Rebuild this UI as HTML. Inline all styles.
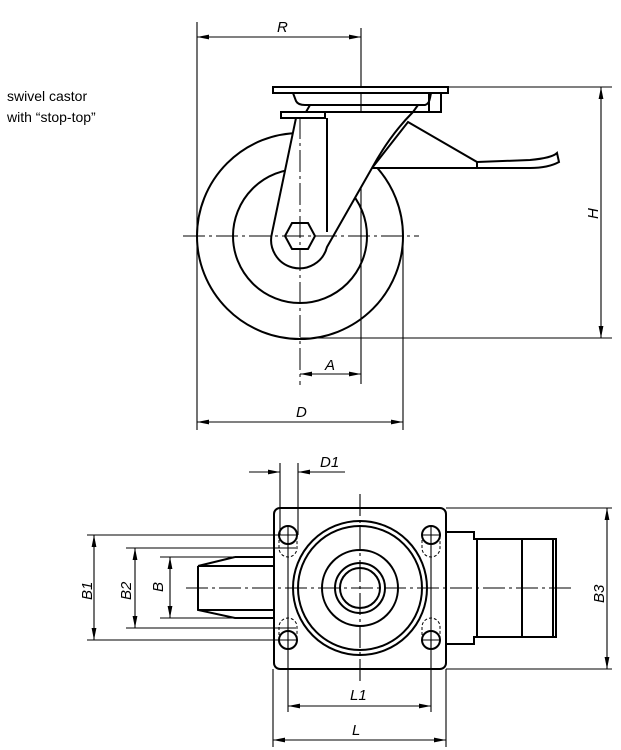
<!DOCTYPE html>
<html><head><meta charset="utf-8"><style>
html,body{margin:0;padding:0;background:#fff;}
svg{display:block;}
text{font-family:"Liberation Sans",sans-serif;font-style:italic;font-size:15px;fill:#000;}
.t{font-style:normal;font-size:14px;}
</style></head><body>
<svg width="621" height="750" viewBox="0 0 621 750" xmlns="http://www.w3.org/2000/svg">
<defs>
<marker id="a" viewBox="0 0 12 6" refX="12" refY="3" markerWidth="12" markerHeight="6" markerUnits="userSpaceOnUse" orient="auto-start-reverse"><path d="M0,0.6 L12,3 L0,5.4z" fill="#000"/></marker>
</defs>
<text class="t" x="7" y="101">swivel castor</text>
<text class="t" x="7" y="122">with “stop-top”</text>

<g fill="none" stroke="#000" stroke-width="1.1">
<line x1="197" y1="22" x2="197" y2="430"/>
<line x1="361" y1="28" x2="361" y2="384"/>
<line x1="197" y1="37" x2="361" y2="37" marker-start="url(#a)" marker-end="url(#a)"/>
<line x1="448" y1="87" x2="612" y2="87"/>
<line x1="300" y1="338" x2="612" y2="338"/>
<line x1="601" y1="87" x2="601" y2="338" marker-start="url(#a)" marker-end="url(#a)"/>
<line x1="300" y1="374" x2="361" y2="374" marker-start="url(#a)" marker-end="url(#a)"/>
<line x1="403" y1="240" x2="403" y2="430"/>
<line x1="197" y1="422" x2="403" y2="422" marker-start="url(#a)" marker-end="url(#a)"/>
</g>
<g fill="none" stroke="#000" stroke-width="2">
<circle cx="300" cy="236" r="103"/>
<circle cx="300" cy="236" r="67"/>
<path d="M408,122 L477,162 L477,168 L372,168 Z" fill="#fff"/>
<path d="M477,162 L530,160 Q552,158 557,153 L559,162 Q548,168 530,168 L477,168"/>
<path d="M296,118 L272,233 A28,28 0 0 0 327,247 L372,168 Q390,135 413,112 L296,112 Z" fill="#fff"/>
<line x1="327" y1="118" x2="327" y2="232"/>
<rect x="273" y="87" width="175" height="6" fill="#fff"/>
<path d="M293,93 L296,101 Q298,105 305,105 L425,105 Q429,104 430,98 L431,93"/>
<rect x="429" y="93" width="12" height="19"/>
<rect x="281" y="112" width="44" height="6" fill="#fff"/>
<path d="M310,105 L306,112 M418,105 L413,112 L441,112"/>
<path d="M285,236 L292,223 L308,223 L315,236 L308,249 L292,249 Z"/>
</g>
<line x1="300" y1="117" x2="300" y2="385" stroke="#000" stroke-width="1" stroke-dasharray="22,4,3,4"/>
<line x1="183" y1="236" x2="419" y2="236" stroke="#000" stroke-width="1" stroke-dasharray="22,4,3,4"/>
<text x="277" y="32">R</text>
<text x="325" y="370">A</text>
<text x="296" y="417">D</text>
<text x="0" y="0" transform="translate(598,219) rotate(-90)">H</text>

<g fill="none" stroke="#000" stroke-width="1.1">
<line x1="280" y1="463" x2="280" y2="535"/>
<line x1="298" y1="463" x2="298" y2="535"/>
<line x1="249" y1="472" x2="280" y2="472" marker-end="url(#a)"/>
<line x1="345" y1="472" x2="298" y2="472" marker-end="url(#a)"/>
<line x1="87" y1="535" x2="296" y2="535"/>
<line x1="87" y1="640" x2="296" y2="640"/>
<line x1="94" y1="535" x2="94" y2="640" marker-start="url(#a)" marker-end="url(#a)"/>
<line x1="126" y1="548" x2="296" y2="548"/>
<line x1="126" y1="628" x2="296" y2="628"/>
<line x1="135" y1="548" x2="135" y2="628" marker-start="url(#a)" marker-end="url(#a)"/>
<line x1="160" y1="557" x2="235" y2="557"/>
<line x1="160" y1="618" x2="235" y2="618"/>
<line x1="170" y1="557" x2="170" y2="618" marker-start="url(#a)" marker-end="url(#a)"/>
<line x1="446" y1="508" x2="612" y2="508"/>
<line x1="446" y1="669" x2="612" y2="669"/>
<line x1="607" y1="508" x2="607" y2="669" marker-start="url(#a)" marker-end="url(#a)"/>
<line x1="288" y1="640" x2="288" y2="712"/>
<line x1="431" y1="640" x2="431" y2="712"/>
<line x1="288" y1="706" x2="431" y2="706" marker-start="url(#a)" marker-end="url(#a)"/>
<line x1="273" y1="669" x2="273" y2="747"/>
<line x1="446" y1="669" x2="446" y2="747"/>
<line x1="273" y1="740" x2="446" y2="740" marker-start="url(#a)" marker-end="url(#a)"/>
<line x1="186" y1="588" x2="572" y2="588" stroke-dasharray="22,4,3,4"/>
<line x1="360" y1="494" x2="360" y2="682" stroke-dasharray="22,4,3,4"/>
<line x1="278" y1="535" x2="298" y2="535"/><line x1="278" y1="640" x2="298" y2="640"/>
<line x1="421" y1="535" x2="441" y2="535"/><line x1="421" y1="640" x2="441" y2="640"/>
<line x1="431" y1="525" x2="431" y2="650"/>
<line x1="288" y1="525" x2="288" y2="650"/>
</g>
<g fill="none" stroke="#000" stroke-width="2">
<rect x="274" y="508" width="172" height="161" rx="6"/>
<circle cx="360" cy="588" r="67"/>
<circle cx="360" cy="588" r="62"/>
<circle cx="360" cy="588" r="38"/>
<circle cx="360" cy="588" r="25"/>
<circle cx="360" cy="588" r="20"/>
<circle cx="288" cy="535" r="9"/><circle cx="431" cy="535" r="9"/>
<circle cx="288" cy="640" r="9"/><circle cx="431" cy="640" r="9"/>
<path d="M235,557 L274,557 M198,566 L274,566 M198,566 L235,557 M198,566 L198,610 L235,618 L274,618 M198,610 L274,610"/>
<path d="M446,532 L474,532 L474,539 L556,539 L556,637 L474,637 L474,644 L446,644"/>
<line x1="477" y1="539" x2="477" y2="637"/>
<line x1="522" y1="539" x2="522" y2="637"/>
<line x1="553" y1="539" x2="553" y2="637"/>
</g>
<g fill="none" stroke="#000" stroke-width="1" stroke-dasharray="3,2">
<path d="M279,535 L279,548 A9,9 0 0 0 297,548 L297,535"/>
<path d="M422,535 L422,548 A9,9 0 0 0 440,548 L440,535"/>
<path d="M279,640 L279,627 A9,9 0 0 1 297,627 L297,640"/>
<path d="M422,640 L422,627 A9,9 0 0 1 440,627 L440,640"/>
</g>
<text x="320" y="467">D1</text>
<text x="350" y="700">L1</text>
<text x="352" y="735">L</text>
<text transform="translate(92,600) rotate(-90)">B1</text>
<text transform="translate(131,600) rotate(-90)">B2</text>
<text transform="translate(163,592) rotate(-90)">B</text>
<text transform="translate(604,603) rotate(-90)">B3</text>
</svg>
</body></html>
